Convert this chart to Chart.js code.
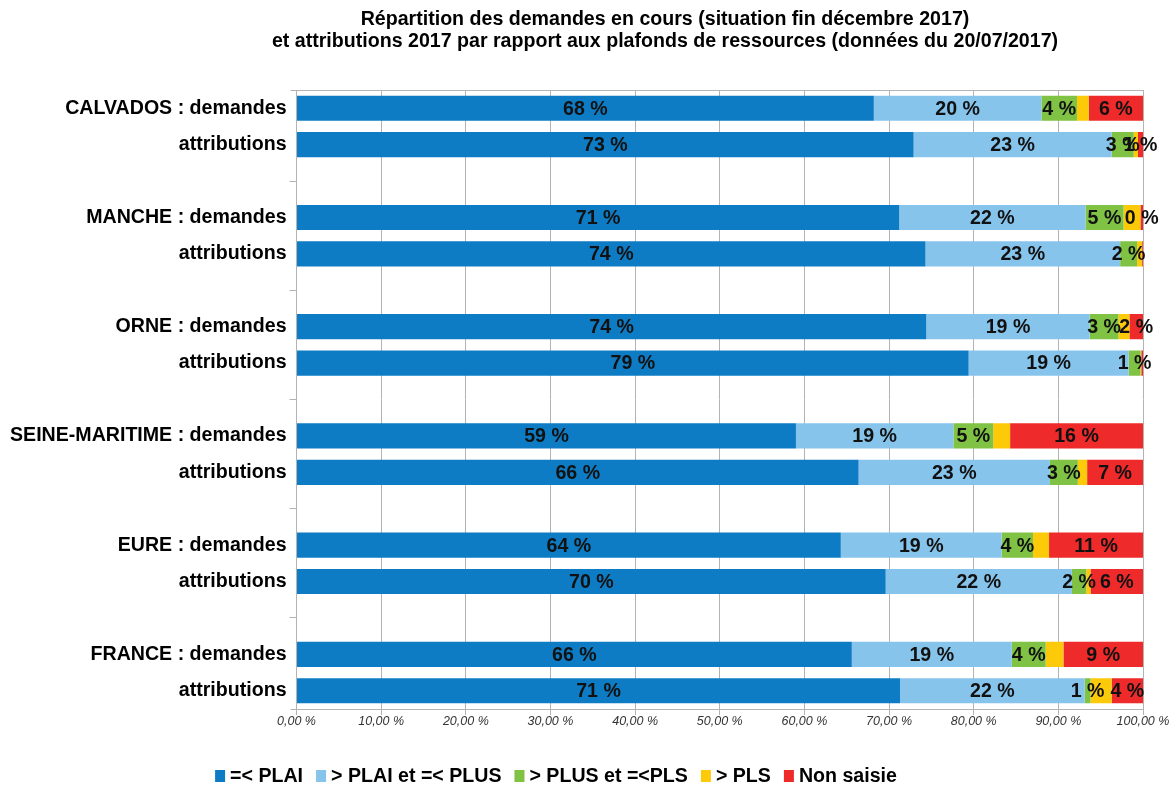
<!DOCTYPE html>
<html lang="fr">
<head>
<meta charset="utf-8">
<title>Répartition des demandes et attributions 2017</title>
<script src="https://cdn.jsdelivr.net/npm/chart.js@4.4.1/dist/chart.umd.min.js"></script>
<style>
  html, body { margin: 0; padding: 0; background: #fff; }
  #wrap { width: 1169px; height: 785px; position: relative; }
</style>
</head>
<body>
<div id="wrap"><canvas id="graf"></canvas></div>
<script>
/* Repartition par plafonds de ressources : barres empilees a 100 % */

// lignes vides ('') = separateurs entre departements
const categories = [
  'CALVADOS : demandes', 'attributions', '',
  'MANCHE : demandes', 'attributions', '',
  'ORNE : demandes', 'attributions', '',
  'SEINE-MARITIME : demandes', 'attributions', '',
  'EURE : demandes', 'attributions', '',
  'FRANCE : demandes', 'attributions'
];

const plai      = [68.2, 72.9, null, 71.2, 74.3, null, 74.4, 79.4, null, 59.0, 66.4, null, 64.3, 69.6, null, 65.6, 71.3];
const plaiPlus  = [19.8, 23.4, null, 22.0, 23.0, null, 19.3, 18.9, null, 18.6, 22.6, null, 19.0, 22.0, null, 18.9, 21.8];
const plusPls   = [ 4.2,  2.6, null,  4.5,  2.0, null,  3.4,  1.4, null,  4.7,  3.3, null,  3.7,  1.7, null,  4.0,  0.7];
const supPls    = [ 1.4,  0.5, null,  2.0,  0.6, null,  1.3,  0.1, null,  2.0,  1.1, null,  1.9,  0.5, null,  2.1,  2.5];
const nonSaisie = [ 6.4,  0.6, null,  0.3,  0.1, null,  1.6,  0.2, null, 15.7,  6.6, null, 11.1,  6.2, null,  9.4,  3.7];

const xTicks = [0, 10, 20, 30, 40, 50, 60, 70, 80, 90, 100];

const titre = [
  'Répartition des demandes en cours (situation fin décembre 2017)',
  'et attributions 2017 par rapport aux plafonds de ressources (données du 20/07/2017)'
];

const series = [
  { label: '=< PLAI',            data: plai,      color: '#0e7cc4', etiquette: true  },
  { label: '> PLAI et =< PLUS',  data: plaiPlus,  color: '#87c4ec', etiquette: true  },
  { label: '> PLUS et =<PLS',    data: plusPls,   color: '#7fc244', etiquette: true  },
  { label: '> PLS',              data: supPls,    color: '#fdca0a', etiquette: false },
  { label: 'Non saisie',         data: nonSaisie, color: '#ee2a2a', etiquette: true  },
];

const FONT = '"Liberation Sans", Arial, sans-serif';
const GRAS = 'bold 19.6px ' + FONT;

function fmtAxe(v) {
  return v.toFixed(2).replace('.', ',') + ' %';
}

// titre, legende du bas et cadre haut de la zone de trace
const decor = {
  id: 'decor',
  afterDraw(chart) {
    const { ctx, chartArea } = chart;
    ctx.save();
    ctx.strokeStyle = '#b3b3b3';
    ctx.lineWidth = 1;
    ctx.beginPath();
    ctx.moveTo(chartArea.left - 6, Math.round(chartArea.top) + 0.5);
    ctx.lineTo(chartArea.right, Math.round(chartArea.top) + 0.5);
    ctx.moveTo(chartArea.left - 6, Math.round(chartArea.bottom) + 0.5);
    ctx.lineTo(chartArea.left, Math.round(chartArea.bottom) + 0.5);
    ctx.stroke();

    ctx.fillStyle = '#000';
    ctx.font = GRAS;
    ctx.textAlign = 'center';
    ctx.textBaseline = 'middle';
    ctx.fillText(titre[0], 665, 20);
    ctx.fillText(titre[1], 665, 42);

    // legende
    const boxW = 10, boxH = 12, gap = 5, ecart = 13;
    const larg = series.map(s => boxW + gap + ctx.measureText(s.label).width);
    const total = larg.reduce((a, b) => a + b, 0) + ecart * (series.length - 1);
    let x = 556 - total / 2;
    const y = 776;
    ctx.textAlign = 'left';
    series.forEach((s, i) => {
      ctx.fillStyle = s.color;
      ctx.fillRect(x, y - boxH / 2, boxW, boxH);
      ctx.fillStyle = '#000';
      ctx.fillText(s.label, x + boxW + gap, y + 1);
      x += larg[i] + ecart;
    });
    ctx.restore();
  }
};

// valeurs arrondies au centre de chaque segment
const etiquettes = {
  id: 'etiquettes',
  afterDatasetsDraw(chart) {
    const { ctx } = chart;
    ctx.save();
    ctx.font = GRAS;
    ctx.fillStyle = '#111';
    ctx.textAlign = 'center';
    ctx.textBaseline = 'middle';
    chart.data.datasets.forEach((ds, i) => {
      if (!series[i].etiquette) return;
      const meta = chart.getDatasetMeta(i);
      meta.data.forEach((bar, j) => {
        const v = ds.data[j];
        if (v == null || v < 0.25) return;
        const cx = (bar.x + bar.base) / 2;
        ctx.fillText(Math.round(v) + ' %', cx, bar.y + 1);
      });
    });
    ctx.restore();
  }
};

new Chart(document.getElementById('graf'), {
  type: 'bar',
  data: {
    labels: categories,
    datasets: series.map(s => ({
      label: s.label,
      data: s.data,
      backgroundColor: s.color,
      borderWidth: 0,
      barPercentage: 0.69,
      categoryPercentage: 1,
    })),
  },
  options: {
    indexAxis: 'y',
    responsive: true,
    maintainAspectRatio: false,
    animation: false,
    layout: { padding: { top: 90, left: 7, right: 26, bottom: 57 } },
    plugins: {
      title: { display: false },
      legend: { display: false },
      tooltip: { enabled: false },
    },
    scales: {
      x: {
        stacked: true,
        min: 0,
        max: 100,
        afterBuildTicks: axis => { axis.ticks = xTicks.map(v => ({ value: v })); },
        ticks: {
          color: '#333',
          font: { family: FONT, size: 12.5, style: 'italic' },
          padding: -1,
          maxRotation: 0,
          callback: v => fmtAxe(v),
        },
        grid: { color: '#b3b3b3', tickLength: 6, drawTicks: true },
        border: { color: '#b3b3b3' },
      },
      y: {
        stacked: true,
        ticks: {
          color: '#000',
          padding: 3,
          font: { family: FONT, size: 19.6, weight: 'bold' },
        },
        grid: {
          offset: false,
          drawOnChartArea: false,
          tickLength: 7,
          color: ctx => (ctx.tick && ctx.tick.label === '') ? '#b3b3b3' : 'rgba(0,0,0,0)',
        },
        border: { display: false },
      },
    },
  },
  plugins: [decor, etiquettes],
});
</script>
</body>
</html>
